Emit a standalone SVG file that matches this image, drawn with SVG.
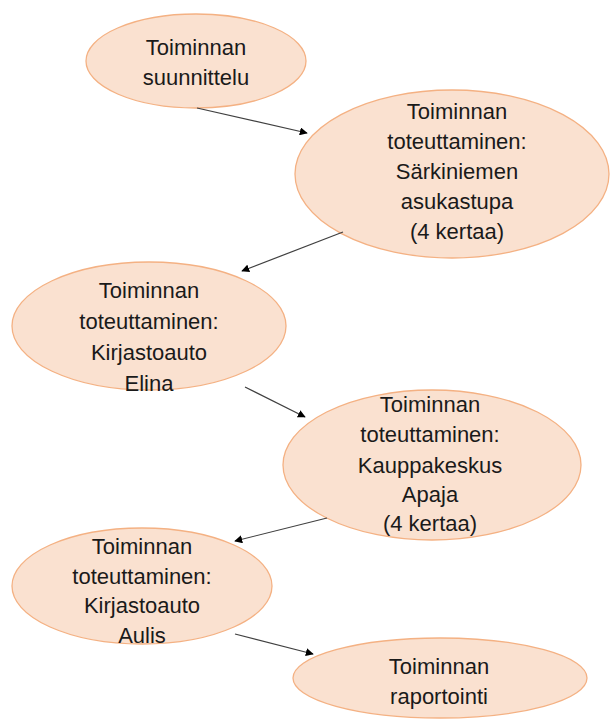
<svg xmlns="http://www.w3.org/2000/svg" width="612" height="720" viewBox="0 0 612 720">
<defs>
<marker id="arr" viewBox="0 0 10 10" refX="9" refY="5" markerWidth="8" markerHeight="8" markerUnits="userSpaceOnUse" orient="auto">
<path d="M0,0 L10,5 L0,10 z" fill="#000"/>
</marker>
<style>
.n ellipse{fill:#FAE1D0;stroke:#F4B183;stroke-width:1.3}
.n text{font-family:"Liberation Sans",Arial,sans-serif;font-size:22px;fill:#1a1a1a;text-anchor:middle}
.c line{stroke:#404040;stroke-width:1.2;marker-end:url(#arr)}
</style>
</defs>
<rect width="612" height="720" fill="#fff"/>
<g id="n1" class="n">
<ellipse cx="196" cy="61" rx="110" ry="47"/>
<text x="196" y="55">Toiminnan</text>
<text x="196" y="85">suunnittelu</text>
</g>
<g id="n2" class="n">
<ellipse cx="452" cy="174" rx="157" ry="84"/>
<text x="457" y="119">Toiminnan</text>
<text x="457" y="149">toteuttaminen:</text>
<text x="457" y="179">Särkiniemen</text>
<text x="457" y="209">asukastupa</text>
<text x="457" y="239">(4 kertaa)</text>
</g>
<g id="n3" class="n">
<ellipse cx="149" cy="326" rx="137" ry="64"/>
<text x="149" y="298">Toiminnan</text>
<text x="149" y="329">toteuttaminen:</text>
<text x="149" y="360">Kirjastoauto</text>
<text x="149" y="391">Elina</text>
</g>
<g id="n4" class="n">
<ellipse cx="432" cy="465" rx="149" ry="75"/>
<text x="430" y="412">Toiminnan</text>
<text x="430" y="442">toteuttaminen:</text>
<text x="430" y="473">Kauppakeskus</text>
<text x="430" y="502">Apaja</text>
<text x="430" y="531">(4 kertaa)</text>
</g>
<g id="n5" class="n">
<ellipse cx="142" cy="586" rx="130" ry="58"/>
<text x="142" y="554">Toiminnan</text>
<text x="142" y="584">toteuttaminen:</text>
<text x="142" y="613">Kirjastoauto</text>
<text x="142" y="643">Aulis</text>
</g>
<g id="n6" class="n">
<ellipse cx="440" cy="678" rx="147" ry="40"/>
<text x="439" y="674">Toiminnan</text>
<text x="439" y="704">raportointi</text>
</g>
<g id="connectors" class="c">
<line x1="197" y1="108" x2="307" y2="133"/>
<line x1="343" y1="232" x2="242" y2="271"/>
<line x1="245" y1="387" x2="305" y2="417"/>
<line x1="327" y1="518" x2="235" y2="541"/>
<line x1="235" y1="634" x2="313" y2="654"/>
</g>
</svg>
